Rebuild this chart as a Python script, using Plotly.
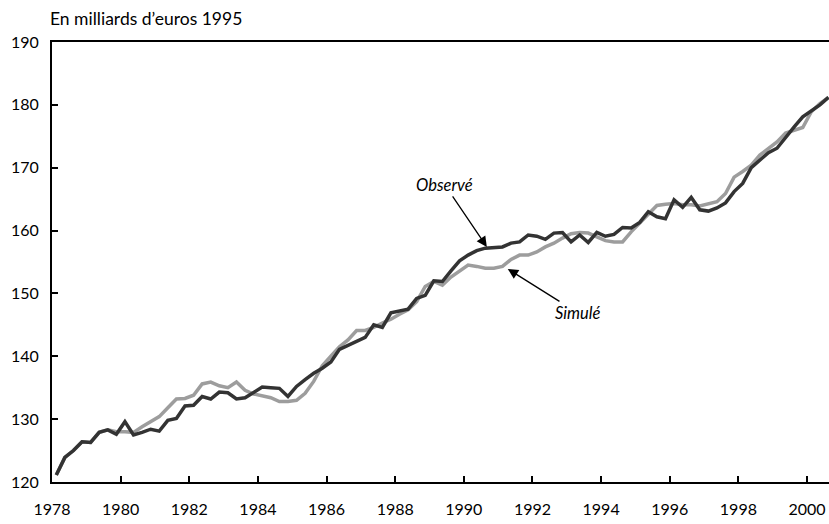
import plotly.graph_objects as go

# Données trimestrielles, 1978T1 -> 2000T3 (en milliards d'euros 1995)
ANNEE_DEBUT = 1978
NB_TRIMESTRES = 91

observe = [
    121.1, 123.9, 125.0, 126.4, 126.3, 127.9, 128.3, 127.6, 129.6, 127.5,
    127.9, 128.4, 128.1, 129.8, 130.1, 132.1, 132.2, 133.6, 133.2, 134.3,
    134.2, 133.2, 133.4, 134.2, 135.1, 135.0, 134.9, 133.6, 135.2, 136.3,
    137.3, 138.1, 139.1, 141.1, 141.7, 142.3, 143.0, 145.0, 144.6, 146.9,
    147.2, 147.5, 149.2, 149.7, 152.0, 151.9, 153.6, 155.2, 156.1, 156.8,
    157.2, 157.3, 157.4, 158.0, 158.2, 159.3, 159.1, 158.6, 159.6, 159.7,
    158.2, 159.3, 158.1, 159.7, 159.1, 159.4, 160.5, 160.4, 161.3, 163.0,
    162.2, 161.9, 164.9, 163.7, 165.3, 163.3, 163.1, 163.6, 164.4, 166.2,
    167.5, 170.0, 171.2, 172.4, 173.1, 174.9, 176.5, 178.1, 179.1, 180.0,
    181.2,
]

simule = [
    121.1, 123.9, 125.0, 126.4, 126.3, 127.9, 128.3, 128.0, 128.0, 127.9,
    128.8, 129.6, 130.4, 131.8, 133.2, 133.3, 133.8, 135.6, 135.9, 135.3,
    135.0, 135.9, 134.6, 134.0, 133.7, 133.4, 132.8, 132.8, 133.0, 134.1,
    136.0, 138.5, 140.0, 141.5, 142.6, 144.1, 144.1, 144.6, 145.3, 145.9,
    146.7, 147.4, 148.7, 151.1, 151.9, 151.3, 152.6, 153.6, 154.5, 154.3,
    154.0, 154.0, 154.3, 155.4, 156.1, 156.1, 156.6, 157.4, 158.0, 158.8,
    159.5, 159.7, 159.6, 159.0, 158.4, 158.2, 158.2, 159.8, 161.2, 162.5,
    164.0, 164.2, 164.3, 164.1, 164.1, 163.9, 164.2, 164.6, 165.9, 168.5,
    169.4, 170.4, 172.0, 173.1, 174.1, 175.5, 176.0, 176.4, 178.9, 180.2,
    181.2,
]

# position de chaque trimestre au milieu de sa période
trimestres = [ANNEE_DEBUT + (i + 0.5) / 4 for i in range(NB_TRIMESTRES)]

annees_ticks = list(range(1978, 2001, 2))
valeurs_ticks = list(range(120, 191, 10))

POLICE = "Lato"

fig = go.Figure()

fig.add_trace(go.Scatter(
    x=trimestres, y=simule, mode="lines", name="Simulé",
    line=dict(color="#9d9d9d", width=3.5),
))
fig.add_trace(go.Scatter(
    x=trimestres, y=observe, mode="lines", name="Observé",
    line=dict(color="#333333", width=3.5),
))

fig.update_layout(
    width=829,
    height=524,
    margin=dict(l=52, r=0, t=42, b=42, autoexpand=False),
    paper_bgcolor="white",
    plot_bgcolor="white",
    showlegend=False,
    font=dict(family=POLICE, size=16, color="black"),
)

fig.update_xaxes(
    range=[1978, 2000.64],
    tickvals=annees_ticks,
    ticktext=[str(a) for a in annees_ticks],
    ticks="inside",
    ticklen=6,
    tickwidth=1.5,
    tickcolor="black",
    showline=True,
    linecolor="black",
    linewidth=2,
    mirror=True,
    showgrid=False,
    zeroline=False,
    automargin=False,
    ticklabelstandoff=12,
)

fig.update_yaxes(
    range=[120, 190],
    tickvals=valeurs_ticks,
    ticks="inside",
    ticklen=6,
    tickwidth=1.5,
    tickcolor="black",
    showline=True,
    linecolor="black",
    linewidth=2,
    showgrid=False,
    zeroline=False,
    automargin=False,
    ticklabelstandoff=8,
)

# Titre de l'unité
fig.add_annotation(
    text="En milliards d’euros 1995",
    xref="paper", yref="paper", x=0, y=1.0, xshift=-4, yshift=24,
    xanchor="left", yanchor="middle", showarrow=False,
    font=dict(family=POLICE, size=17.5, color="black"),
)

# Flèches
fig.add_annotation(
    text="<i>Observé</i>", x=1990.67, y=157.4, ax=-42, ay=-62,
    showarrow=True, arrowhead=2, arrowsize=1.6, arrowwidth=1.3,
    arrowcolor="black", font=dict(family=POLICE, size=16.5, color="black"),
)
fig.add_annotation(
    text="<i>Simulé</i>", x=1991.28, y=153.9, ax=70, ay=44,
    showarrow=True, arrowhead=2, arrowsize=1.6, arrowwidth=1.3,
    arrowcolor="black", font=dict(family=POLICE, size=16.5, color="black"),
)

# la page HTML garde la marge par défaut du <body> : on la supprime
fig.write_html(
    "out.html",
    config={"displayModeBar": False},
    post_script="document.body.style.margin = '0';",
)
